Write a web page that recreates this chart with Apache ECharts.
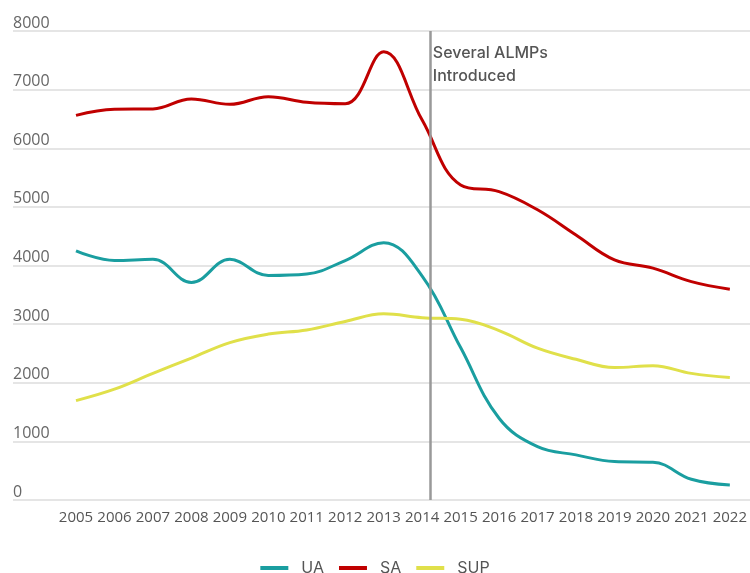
<!DOCTYPE html>
<html>
<head>
<meta charset="utf-8">
<script src="https://cdn.jsdelivr.net/npm/echarts@6/dist/echarts.min.js"></script>
<style>
  html, body { margin: 0; padding: 0; background: #fff; }
  #chart { width: 750px; height: 573px; }
</style>
</head>
<body>
<div id="chart"></div>
<script>
// data
var years = [2005, 2006, 2007, 2008, 2009, 2010, 2011, 2012, 2013,
             2014, 2015, 2016, 2017, 2018, 2019, 2020, 2021, 2022];
var ua  = [4250, 4085, 4105, 3710, 4105, 3830, 3855, 4085, 4390,
           3820, 2600, 1395, 910, 770, 655, 645, 353, 256];
var sa  = [6560, 6665, 6670, 6840, 6750, 6880, 6785, 6760, 7645,
           6480, 5375, 5260, 4950, 4520, 4095, 3955, 3725, 3595];
var sup = [1695, 1890, 2160, 2420, 2685, 2830, 2900, 3045, 3175,
           3110, 3085, 2890, 2590, 2400, 2260, 2290, 2160, 2090];
var yTicks = [0, 8000, 1000]; // min, max, step
var almpYear = 2014.2;
var almpLabel = 'Several ALMPs\nIntroduced';

function pairs(vals) {
  return vals.map(function (v, i) { return [years[i], v]; });
}

var chart = echarts.init(document.getElementById('chart'));

var option = {
  animation: false,
  grid: [
    // background grid: y labels + long gridlines
    { left: 13, right: 0, top: 31, bottom: 73 },
    // plotting grid
    { left: 76, right: 13, top: 31, bottom: 73 }
  ],
  xAxis: [
    { gridIndex: 0, type: 'value', min: 0, max: 1, show: false },
    {
      gridIndex: 1, type: 'value', min: years[0], max: years[years.length - 1], interval: 1,
      axisLine: { show: false },
      axisTick: { show: false },
      splitLine: { show: false },
      axisLabel: {
        margin: 10,
        color: '#555',
        fontSize: 15,
        fontFamily: 'Open Sans',
        formatter: function (v) { return String(v); }
      }
    }
  ],
  yAxis: [
    {
      gridIndex: 0, type: 'value', min: yTicks[0], max: yTicks[1], interval: yTicks[2],
      axisLine: { show: false },
      axisTick: { show: false },
      splitLine: { lineStyle: { color: '#dcdcdc', width: 1.5 } },
      axisLabel: {
        inside: true,
        margin: 0,
        verticalAlign: 'bottom',
        color: '#666',
        fontSize: 16,
        fontFamily: 'Open Sans',
        formatter: function (v) { return String(v); }
      }
    },
    { gridIndex: 1, type: 'value', min: yTicks[0], max: yTicks[1], show: false }
  ],
  legend: {
    data: ['UA', 'SA', 'SUP'],
    top: 555,
    left: 'center',
    icon: 'rect',
    itemWidth: 28,
    itemHeight: 4,
    itemGap: 15,
    textStyle: { color: '#555', fontSize: 16, fontFamily: 'Inter', padding: [0, 0, 0, 8] }
  },
  series: [
    {
      name: 'UA', type: 'line', xAxisIndex: 1, yAxisIndex: 1,
      data: pairs(ua), smooth: 0.4, showSymbol: false,
      lineStyle: { width: 3, color: '#1a9ea0' }, itemStyle: { color: '#1a9ea0' },
      markLine: {
        silent: true,
        symbol: 'none',
        label: { show: false },
        lineStyle: { color: '#999', width: 2.5, type: 'solid' },
        data: [{ xAxis: almpYear }]
      }
    },
    {
      name: 'SA', type: 'line', xAxisIndex: 1, yAxisIndex: 1,
      data: pairs(sa), smooth: 0.4, showSymbol: false,
      lineStyle: { width: 3, color: '#c00000' }, itemStyle: { color: '#c00000' },
      markPoint: {
        silent: true,
        symbol: 'circle',
        symbolSize: 0,
        label: {
          show: true,
          position: 'right',
          distance: 3,
          formatter: almpLabel,
          color: '#555',
          fontSize: 16,
          fontWeight: 500,
          fontFamily: 'Inter',
          lineHeight: 23
        },
        data: [{ coord: [almpYear, 7430] }]
      }
    },
    {
      name: 'SUP', type: 'line', xAxisIndex: 1, yAxisIndex: 1,
      data: pairs(sup), smooth: 0.4, showSymbol: false,
      lineStyle: { width: 3, color: '#e0e04a' }, itemStyle: { color: '#e0e04a' }
    }
  ]
};

chart.setOption(option);
</script>
</body>
</html>
